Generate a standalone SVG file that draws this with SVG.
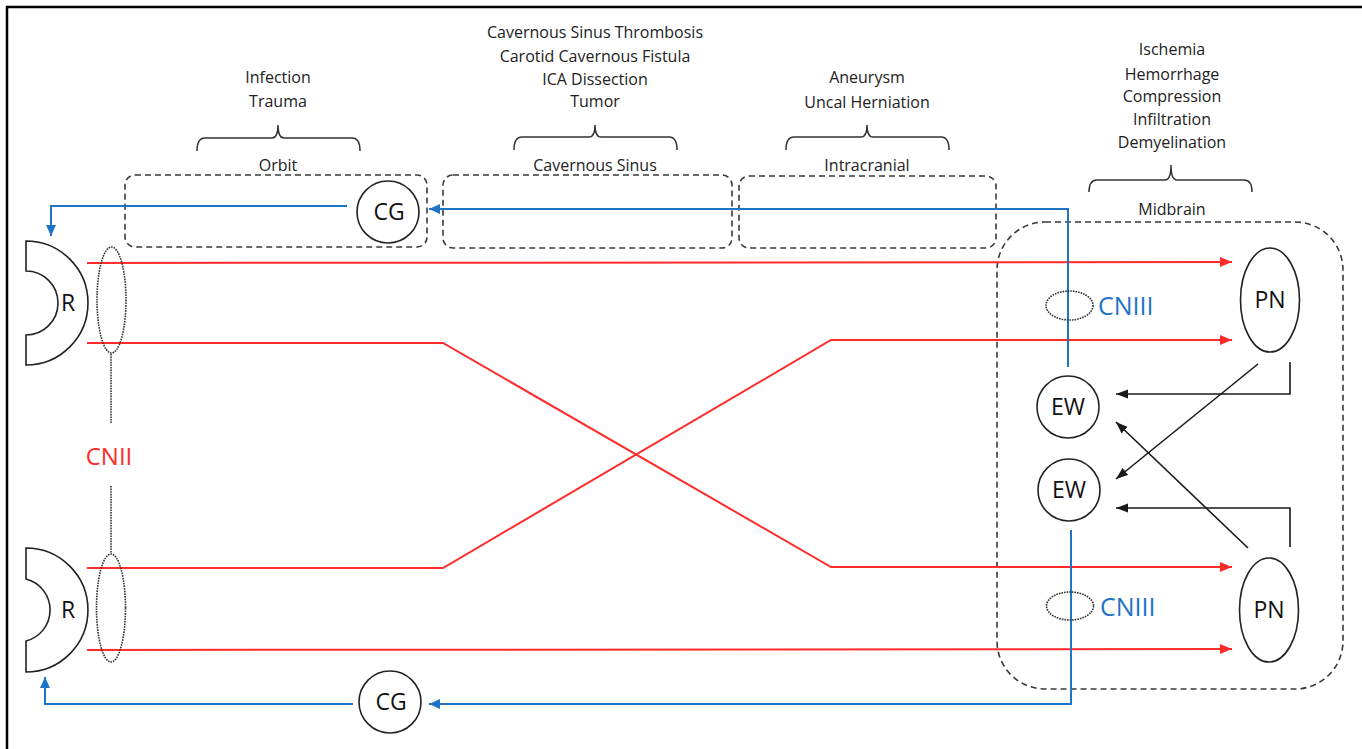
<svg xmlns="http://www.w3.org/2000/svg" width="1362" height="749" viewBox="0 0 1362 749">
<style>
  text { font-family: "Open Sans", "Liberation Sans", sans-serif; fill: #222; }
  .lbl { font-size: 16px; text-anchor: middle; }
  .node { font-size: 23px; text-anchor: middle; fill: #111; }
  .shape { fill: #fff; stroke: #222; stroke-width: 1.6; }
  .dbox { fill: none; stroke: #3a3a3a; stroke-width: 1.6; stroke-dasharray: 6 4; }
  .brace { fill: none; stroke: #333; stroke-width: 1.5; }
  .dot { fill: none; stroke: #333; stroke-width: 1.6; stroke-dasharray: 1.6 1; }
  .red { fill: none; stroke: #ff2b2b; stroke-width: 2; }
  .blue { fill: none; stroke: #1e74c6; stroke-width: 2; }
  .blk { fill: none; stroke: #1a1a1a; stroke-width: 1.6; }
</style>
<defs>
  <marker id="aRed" markerUnits="userSpaceOnUse" markerWidth="13" markerHeight="10" refX="12" refY="5" orient="auto">
    <path d="M0,0 L12,5 L0,10 Z" fill="#ff2b2b"/>
  </marker>
  <marker id="aBlue" markerUnits="userSpaceOnUse" markerWidth="12" markerHeight="10" refX="11" refY="5" orient="auto">
    <path d="M0,0 L11,5 L0,10 Z" fill="#1e74c6"/>
  </marker>
  <marker id="aBlk" markerUnits="userSpaceOnUse" markerWidth="13" markerHeight="10" refX="12" refY="5" orient="auto">
    <path d="M0,0.5 L12,5 L0,9.5 Z" fill="#1a1a1a"/>
  </marker>
</defs>

<rect x="0" y="0" width="1362" height="749" fill="#fff"/>
<path d="M7,760 L7,7 L1370,7" fill="none" stroke="#000" stroke-width="2.5"/>

<!-- region boxes and braces -->
<g id="orbit">
  <rect class="dbox" x="125" y="175" width="302" height="72" rx="10"/>
  <path class="brace" d="M197,151 Q197,138 205,138 L272,138 Q278,138 278,125 Q278,138 284,138 L352,138 Q360,138 360,151"/>
  <text class="lbl" x="278" y="83">Infection</text>
  <text class="lbl" x="278" y="107">Trauma</text>
  <text class="lbl" x="278" y="171">Orbit</text>
</g>
<g id="cavernous">
  <rect class="dbox" x="443" y="175" width="289" height="73" rx="10"/>
  <path class="brace" d="M514,150 Q514,137 522,137 L589,137 Q595,137 595,125 Q595,137 601,137 L669,137 Q677,137 677,150"/>
  <text class="lbl" x="595" y="38">Cavernous Sinus Thrombosis</text>
  <text class="lbl" x="595" y="62">Carotid Cavernous Fistula</text>
  <text class="lbl" x="595" y="85">ICA Dissection</text>
  <text class="lbl" x="595" y="107">Tumor</text>
  <text class="lbl" x="595" y="171">Cavernous Sinus</text>
</g>
<g id="intracranial">
  <rect class="dbox" x="739" y="176" width="257" height="72" rx="10"/>
  <path class="brace" d="M786,150 Q786,137 794,137 L861,137 Q867,137 867,125 Q867,137 873,137 L941,137 Q949,137 949,150"/>
  <text class="lbl" x="867" y="83">Aneurysm</text>
  <text class="lbl" x="867" y="108">Uncal Herniation</text>
  <text class="lbl" x="867" y="171">Intracranial</text>
</g>
<g id="midbrain">
  <rect class="dbox" x="997" y="222" width="346" height="467" rx="48"/>
  <path class="brace" d="M1089,192 Q1089,180 1097,180 L1165,180 Q1171,180 1171,165 Q1171,180 1177,180 L1244,180 Q1252,180 1252,192"/>
  <text class="lbl" x="1172" y="55">Ischemia</text>
  <text class="lbl" x="1172" y="80">Hemorrhage</text>
  <text class="lbl" x="1172" y="102">Compression</text>
  <text class="lbl" x="1172" y="125">Infiltration</text>
  <text class="lbl" x="1172" y="148">Demyelination</text>
  <text class="lbl" x="1172" y="215">Midbrain</text>
</g>

<!-- connectors -->
<g id="connectors">
  <path class="red" d="M87,263 L1232,262" marker-end="url(#aRed)"/>
  <path class="red" d="M87,343 L443,343 L831,567 L1232,567" marker-end="url(#aRed)"/>
  <path class="red" d="M87,568 L443,568 L831,340 L1232,340" marker-end="url(#aRed)"/>
  <path class="red" d="M87,650 L1232,649" marker-end="url(#aRed)"/>

  <path class="blue" d="M1068,367 L1068,209 L429,209" marker-end="url(#aBlue)"/>
  <path class="blue" d="M347,206 L51,206 L51,236" marker-end="url(#aBlue)"/>
  <path class="blue" d="M1071,530 L1071,704 L429,704" marker-end="url(#aBlue)"/>
  <path class="blue" d="M353,704 L45,704 L45,677" marker-end="url(#aBlue)"/>

  <path class="blk" d="M1290,362 L1290,394 L1116,394" marker-end="url(#aBlk)"/>
  <path class="blk" d="M1258,364 L1116,479" marker-end="url(#aBlk)"/>
  <path class="blk" d="M1248,548 L1116,422" marker-end="url(#aBlk)"/>
  <path class="blk" d="M1290,547 L1290,508 L1116,508" marker-end="url(#aBlk)"/>

  <path class="dot" d="M111,354 L111,423"/>
  <path class="dot" d="M111,486 L111,553"/>
</g>

<!-- nodes -->
<g id="retina-top">
  <path class="shape" d="M26,241 A62,62 0 0 1 26,365 L26,335 A32,32 0 0 0 26,271 Z"/>
  <text class="node" x="68" y="311">R</text>
</g>
<g id="retina-bottom">
  <path class="shape" d="M26,548 A62,62 0 0 1 26,672 L26,641 A32,32 0 0 0 26,579 Z"/>
  <text class="node" x="68" y="618">R</text>
</g>
<g id="cnii">
  <ellipse class="dot" cx="111.5" cy="300" rx="14.5" ry="53"/>
  <ellipse class="dot" cx="111" cy="608" rx="14.5" ry="54"/>
  <text x="109" y="465" style="font-size:24px;text-anchor:middle;fill:#ff2b2b">CNII</text>
</g>
<g id="cg-top">
  <circle class="shape" cx="388" cy="212" r="31"/>
  <text class="node" x="389" y="220">CG</text>
</g>
<g id="cg-bottom">
  <circle class="shape" cx="390" cy="702" r="31"/>
  <text class="node" x="391" y="710">CG</text>
</g>
<g id="ew-top">
  <circle class="shape" cx="1068" cy="407" r="31"/>
  <text class="node" x="1068" y="415">EW</text>
</g>
<g id="ew-bottom">
  <circle class="shape" cx="1069" cy="490" r="31"/>
  <text class="node" x="1069" y="498">EW</text>
</g>
<g id="pn-top">
  <ellipse class="shape" cx="1270" cy="300" rx="29.5" ry="52"/>
  <text class="node" x="1270" y="308">PN</text>
</g>
<g id="pn-bottom">
  <ellipse class="shape" cx="1269" cy="610" rx="29.5" ry="52"/>
  <text class="node" x="1269" y="618">PN</text>
</g>
<g id="cniii-top">
  <ellipse class="dot" cx="1069.5" cy="305.5" rx="23.5" ry="14.5"/>
  <text x="1098" y="315" style="font-size:25px;fill:#1e74c6">CNIII</text>
</g>
<g id="cniii-bottom">
  <ellipse class="dot" cx="1070" cy="606" rx="23.5" ry="14"/>
  <text x="1100" y="616" style="font-size:25px;fill:#1e74c6">CNIII</text>
</g>
</svg>
